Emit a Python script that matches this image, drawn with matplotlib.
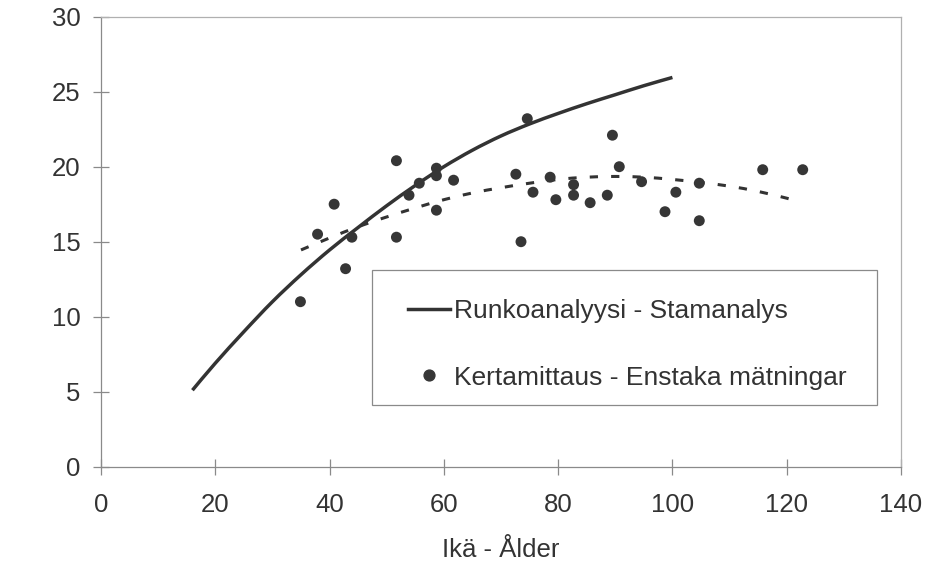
import matplotlib
matplotlib.use("Agg")
import matplotlib.pyplot as plt
import numpy as np
from matplotlib.patches import Rectangle, PathPatch
from matplotlib.path import Path
from matplotlib.lines import Line2D

plt.rcParams['font.family'] = ['Liberation Sans', 'DejaVu Sans']

# Stem analysis curve (Runkoanalyysi - Stamanalys)
stem_age = [16, 20, 25, 30, 35, 40, 45, 50, 55, 60, 65, 70, 75, 80, 85, 90, 95, 100]
stem_height = [5.1, 6.9, 9.0, 11.0, 12.8, 14.45, 15.95, 17.4, 18.75, 20.0, 21.1,
               22.05, 22.85, 23.55, 24.2, 24.8, 25.4, 25.95]

# Single measurements (Kertamittaus - Enstaka mätningar)
meas_age = [34.9, 37.9, 40.8, 42.8, 43.9, 51.7, 51.7, 53.9, 55.7, 58.7, 58.7, 58.7,
            61.7, 72.6, 73.5, 74.6, 75.6, 78.6, 79.6, 82.7, 82.7, 85.6, 88.6, 89.5,
            90.7, 94.6, 98.7, 100.6, 104.7, 104.7, 115.8, 122.8]
meas_height = [11.0, 15.5, 17.5, 13.2, 15.3, 20.4, 15.3, 18.1, 18.9, 19.9, 19.4, 17.1,
               19.1, 19.5, 15.0, 23.2, 18.3, 19.3, 17.8, 18.8, 18.1, 17.6, 18.1, 22.1,
               20.0, 19.0, 17.0, 18.3, 18.9, 16.4, 19.8, 19.8]

# Trend of single measurements (dashed)
trend_age = [35, 40, 45, 50, 55, 60, 65, 70, 75, 80, 85, 90, 95, 100, 105, 110, 115, 120, 120.6]
trend_height = [14.45, 15.25, 16.0, 16.65, 17.25, 17.8, 18.25, 18.6, 18.9, 19.15, 19.3,
                19.35, 19.3, 19.15, 18.95, 18.7, 18.35, 17.9, 17.8]

x_ticks = [0, 20, 40, 60, 80, 100, 120, 140]
y_ticks = [0, 5, 10, 15, 20, 25, 30]
x_label = "Ikä - Ålder"
legend_labels = ["Runkoanalyysi - Stamanalys", "Kertamittaus - Enstaka mätningar"]


def smooth_path(xs, ys):
    """Catmull-Rom style smooth path through the data points (cubic Bezier segments)."""
    p = np.column_stack([xs, ys]).astype(float)
    verts = [p[0]]
    codes = [Path.MOVETO]
    n = len(p)
    for i in range(n - 1):
        p0 = p[i - 1] if i > 0 else p[i]
        p1 = p[i]
        p2 = p[i + 1]
        p3 = p[i + 2] if i + 2 < n else p[i + 1]
        c1 = p1 + (p2 - p0) / 6.0
        c2 = p2 - (p3 - p1) / 6.0
        verts += [c1, c2, p2]
        codes += [Path.CURVE4] * 3
    return Path(verts, codes)


W, H = 928, 565
fig = plt.figure(figsize=(W / 100, H / 100), dpi=100)
ax = fig.add_axes([101 / W, 1 - 466.7 / H, 800 / W, 450 / H])

dark = '#333333'
axis_gray = '#8a8a8a'

ax.add_patch(PathPatch(smooth_path(stem_age, stem_height), facecolor='none',
                       edgecolor=dark, lw=2.5, capstyle='butt', zorder=3))
dash_patch = PathPatch(smooth_path(trend_age, trend_height), facecolor='none',
                       edgecolor=dark, lw=2.2, zorder=3)
dash_patch.set_linestyle((0, (2.7, 4.3)))
ax.add_patch(dash_patch)
ax.scatter(meas_age, meas_height, s=62, color='#363636', edgecolors='none', zorder=4)

ax.set_xlim(0, 140)
ax.set_ylim(0, 30)
ax.set_xticks(x_ticks)
ax.set_yticks(y_ticks)
for s in ax.spines.values():
    s.set_color(axis_gray)
    s.set_linewidth(0.9)
ax.spines['top'].set_color('#b0b0b0')
ax.spines['right'].set_color('#b0b0b0')

ax.tick_params(axis='both', direction='inout', length=11.5, width=0.9, color=axis_gray,
               labelsize=18.5, labelcolor=dark)
ax.tick_params(axis='x', pad=13)
ax.tick_params(axis='y', pad=9)
ax.set_xlabel(x_label, fontsize=18.5, color=dark, labelpad=15)

# legend box
ax.add_patch(Rectangle((0.339, 0.137), 0.631, 0.30, transform=ax.transAxes,
                       facecolor='white', edgecolor='#8a8a8a', lw=0.9, zorder=5))
handles = [Line2D([], [], color=dark, lw=2.5),
           Line2D([], [], color='#363636', marker='o', ls='none', markersize=7.8)]
leg = ax.legend(handles, legend_labels, loc='upper left', bbox_to_anchor=(0.384, 0.372),
                frameon=False, fontsize=19, handlelength=1.6, handletextpad=0.15,
                labelspacing=1.6, borderpad=0, borderaxespad=0, labelcolor=dark)
leg.set_zorder(6)

fig.savefig('out.png', dpi=100)
